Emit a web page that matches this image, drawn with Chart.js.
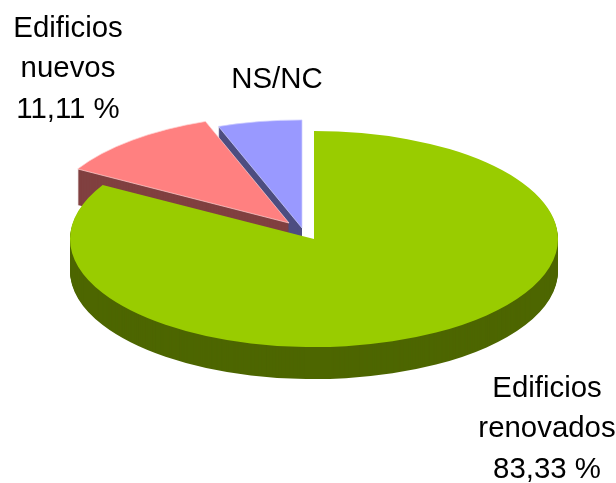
<!DOCTYPE html>
<html>
<head>
<meta charset="utf-8">
<style>html,body{margin:0;padding:0;background:#fff}canvas{display:block}</style>
<script src="https://cdn.jsdelivr.net/npm/chart.js@4"></script>
</head>
<body>
<canvas id="c" width="616" height="483"></canvas>
<script>
const categories = ['Edificios renovados', 'Edificios nuevos', 'NS/NC'];
const percentages = [83.33, 11.11, 5.56];
const topColors = ['#99cc00', '#ff8080', '#9999ff'];
const sideColors = ['#4d6600', '#804040', '#4d4d80'];
const edgeColors = ['#99cc00', '#ffd0d0', '#d0d0ff'];
const labelLines = [
  ['Edificios', 'renovados', '83,33 %'],
  ['Edificios', 'nuevos', '11,11 %'],
  ['NS/NC']
];

const tilted = {
  id: 'tilted',
  beforeDatasetDraw(chart, args, o) {
    const ctx = chart.ctx;
    const arcs = chart.getDatasetMeta(args.index).data;
    const cx = arcs[0].x, cy = arcs[0].y;
    for (let i = arcs.length - 1; i >= 0; i--) {
      const arc = arcs[i];
      const side = Object.create(arc);
      side.options = Object.assign({}, arc.options, {backgroundColor: sideColors[i], borderWidth: 0});
      for (let d = o.depth[i]; d >= 0; d--) {
        ctx.save();
        ctx.translate(cx + o.shiftX[i], cy + o.shiftY[i] + d);
        ctx.scale(1, o.tilt);
        ctx.translate(-cx, -cy);
        if (d > 0) {
          side.draw(ctx);
        } else {
          arc.draw(ctx);
        }
        ctx.restore();
      }
    }
    return false;
  },
  afterDraw(chart, args, o) {
    const ctx = chart.ctx;
    ctx.save();
    ctx.fillStyle = '#000';
    ctx.font = o.font;
    ctx.textAlign = 'center';
    ctx.textBaseline = 'alphabetic';
    labelLines.forEach((lines, i) => {
      lines.forEach((t, j) => ctx.fillText(t, o.labelX[i], o.labelY[i] + j * o.lineGap));
    });
    ctx.restore();
  }
};

new Chart(document.getElementById('c'), {
  type: 'pie',
  data: {
    labels: categories,
    datasets: [{
      data: percentages,
      backgroundColor: topColors,
      borderColor: edgeColors,
      borderWidth: [0, 1, 1]
    }]
  },
  options: {
    responsive: false,
    animation: false,
    radius: 244,
    layout: {padding: {left: 12, right: 0, top: 0, bottom: 5}},
    plugins: {
      legend: {display: false},
      tooltip: {enabled: false},
      tilted: {
        tilt: 0.443,
        depth: [32, 36, 32],
        shiftX: [0, -25, -12],
        shiftY: [0, -16, -11],
        font: '29.4px "Liberation Sans", Arial, sans-serif',
        labelX: [547, 68, 277],
        labelY: [397, 37, 88],
        lineGap: 40.3
      }
    }
  },
  plugins: [tilted]
});
</script>
</body>
</html>
